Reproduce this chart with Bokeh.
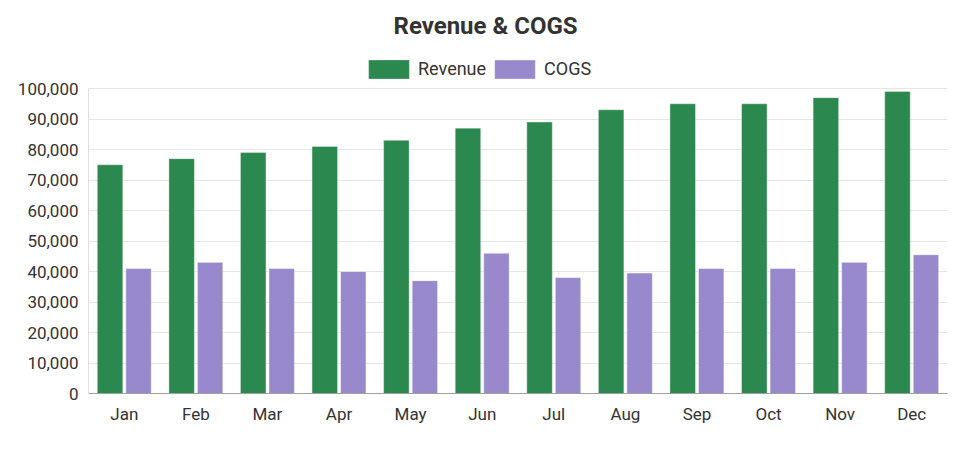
from bokeh.plotting import figure
from bokeh.models import ColumnDataSource, FactorRange, Range1d, Legend, LegendItem, NumeralTickFormatter, FixedTicker
from bokeh.transform import dodge
from bokeh.embed import file_html
from bokeh.resources import INLINE

months = ["Jan", "Feb", "Mar", "Apr", "May", "Jun", "Jul", "Aug", "Sep", "Oct", "Nov", "Dec"]
revenue = [75000, 77000, 79000, 81000, 83000, 87000, 89000, 93000, 95000, 95000, 97000, 99000]
cogs = [41000, 43000, 41000, 40000, 37000, 46000, 38000, 39500, 41000, 41000, 43000, 45500]
y_ticks = [0, 10000, 20000, 30000, 40000, 50000, 60000, 70000, 80000, 90000, 100000]

GREEN = "#2b894f"
PURPLE = "#9888cc"
FONT = "Roboto"

# layout (pixels)
FRAME_LEFT = 88
FRAME_TOP = 48
AXIS_TOP = 88
FRAME_BOTTOM = 393
FRAME_H = FRAME_BOTTOM - FRAME_TOP
Y_MAX = y_ticks[-1]
y_end = Y_MAX * FRAME_H / (FRAME_BOTTOM - AXIS_TOP)

src = ColumnDataSource(dict(months=months, revenue=revenue, cogs=cogs))

p = figure(x_range=FactorRange(*months), y_range=Range1d(0, y_end),
           frame_width=859, frame_height=FRAME_H, output_backend="svg", toolbar_location=None,
           min_border_left=FRAME_LEFT, min_border_right=33, min_border_bottom=56, min_border_top=FRAME_TOP)

r1 = p.vbar(x=dodge("months", -0.199, range=p.x_range), top="revenue", width=0.356, source=src,
            fill_color=GREEN, line_color="white", line_alpha=0.35, line_width=1)
r2 = p.vbar(x=dodge("months", 0.199, range=p.x_range), top="cogs", width=0.356, source=src,
            fill_color=PURPLE, line_color="white", line_alpha=0.5, line_width=1)

p.title.text = "Revenue & COGS"
p.title.align = "left"
p.title.offset = 305
p.title.text_font = FONT
p.title.text_font_size = "24px"
p.title.text_font_style = "bold"
p.title.text_color = "#333333"
p.title.standoff = 18

legend = Legend(items=[LegendItem(label="Revenue", renderers=[r1]), LegendItem(label="COGS", renderers=[r2])],
                orientation="horizontal", location=(275, FRAME_BOTTOM - 80.5),
                glyph_width=51, glyph_height=24, label_standoff=4, spacing=3,
                label_text_font=FONT, label_text_font_size="18px", label_text_color="#333333",
                border_line_color=None, background_fill_alpha=0, padding=0, margin=0)
p.add_layout(legend, "center")

p.outline_line_color = None
p.xgrid.grid_line_color = None
p.ygrid.grid_line_color = "#e6e6e6"
p.yaxis.ticker = FixedTicker(ticks=y_ticks)
p.yaxis.formatter = NumeralTickFormatter(format="0,0")
p.yaxis.bounds = (0, Y_MAX)

for ax in (p.xaxis[0], p.yaxis[0]):
    ax.major_label_text_font = FONT
    ax.major_label_text_font_size = "17px"
    ax.major_label_text_color = "#333333"
    ax.major_tick_line_color = None
    ax.minor_tick_line_color = None
    ax.major_tick_out = 0
    ax.major_tick_in = 0
    ax.major_label_standoff = 10

p.xaxis.axis_line_color = "#a0a0a0"
p.yaxis.axis_line_color = "#e0e0e0"
p.x_range.range_padding = 0
p.x_range.group_padding = 0

open("out.html", "w").write(file_html(p, INLINE))
